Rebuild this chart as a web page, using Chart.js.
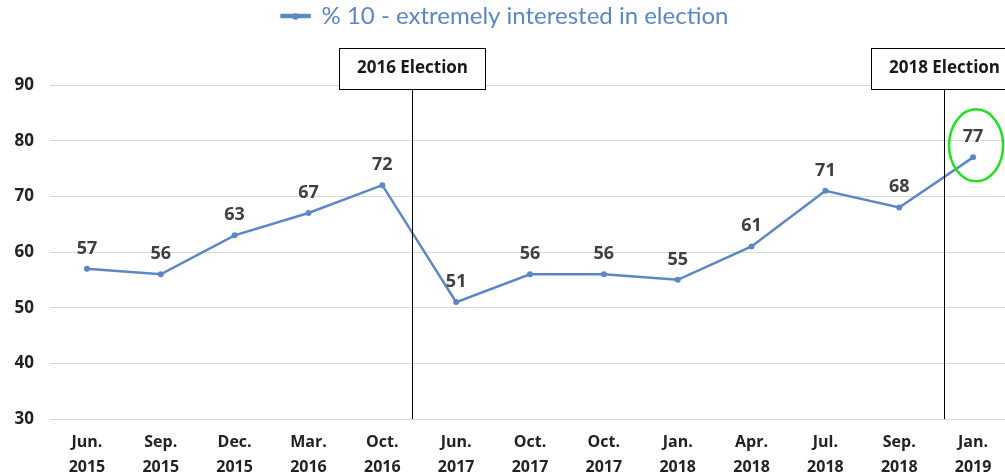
<!DOCTYPE html>
<html>
<head>
<meta charset="utf-8">
<script src="https://cdn.jsdelivr.net/npm/chart.js@4"></script>
<style>
  html, body { margin: 0; padding: 0; background: #fff; overflow: hidden; }
  #wrap { width: 1016px; height: 476px; }
</style>
</head>
<body>
<div id="wrap"><canvas id="chart"></canvas></div>
<script>
// données du graphique
const labels = [['Jun.', '2015'], ['Sep.', '2015'], ['Dec.', '2015'], ['Mar.', '2016'], ['Oct.', '2016'],
    ['Jun.', '2017'], ['Oct.', '2017'], ['Oct.', '2017'], ['Jan.', '2018'], ['Apr.', '2018'],
    ['Jul.', '2018'], ['Sep.', '2018'], ['Jan.', '2019']];
const values = [57, 56, 63, 67, 72, 51, 56, 56, 55, 61, 71, 68, 77];
const seriesName = '% 10 - extremely interested in election';
const yTicks = [30, 40, 50, 60, 70, 80, 90];
const electionNames = ['2016 Election', '2018 Election'];
const electionAt = [4.4, 11.6];   // position entre les catégories
const highlightIndex = 12;

const blue = '#5b87c5';

// étiquettes, lignes d'élection et cercle vert
const overlay = {
    id: 'overlay',
    afterDatasetsDraw(chart) {
        const ctx = chart.ctx;
        const x = chart.scales.x;
        const area = chart.chartArea;
        const pts = chart.getDatasetMeta(0).data;

        ctx.save();
        // lignes verticales + boîtes
        electionNames.forEach((name, i) => {
            const px = Math.round(x.getPixelForValue(electionAt[i])) + 0.5;
            ctx.strokeStyle = '#000';
            ctx.lineWidth = 1;
            ctx.beginPath();
            ctx.moveTo(px, 89);
            ctx.lineTo(px, area.bottom);
            ctx.stroke();

            ctx.font = 'bold 17px "Open Sans", sans-serif';
            const w = 146, h = 41;
            ctx.fillStyle = '#fff';
            ctx.fillRect(px - w / 2, 48.5, w, h);
            ctx.strokeRect(px - w / 2, 48.5, w, h);
            ctx.fillStyle = '#1a1a1a';
            ctx.textAlign = 'center';
            ctx.textBaseline = 'middle';
            ctx.fillText(name, px, 68);
        });

        // étiquettes de valeurs
        ctx.font = 'bold 18px "Open Sans", sans-serif';
        ctx.fillStyle = '#404040';
        ctx.textAlign = 'center';
        ctx.textBaseline = 'alphabetic';
        pts.forEach((p, i) => {
            ctx.fillText(values[i], p.x, p.y - 15);
        });

        // cercle vert autour du dernier point
        const hp = pts[highlightIndex];
        ctx.strokeStyle = '#22e022';
        ctx.lineWidth = 2.5;
        ctx.beginPath();
        ctx.ellipse(hp.x + 3, hp.y - 12, 27, 36, 0, 0, Math.PI * 2);
        ctx.stroke();

        // point dans la légende
        const box = chart.legend.legendHitBoxes[0];
        if (box) {
            ctx.fillStyle = blue;
            ctx.beginPath();
            ctx.arc(box.left + 14, box.top + box.height / 2 + 0.5, 3.2, 0, Math.PI * 2);
            ctx.fill();
        }
        ctx.restore();
    }
};

new Chart(document.getElementById('chart'), {
    type: 'line',
    data: {
        labels: labels,
        datasets: [{
            label: seriesName,
            data: values,
            borderColor: blue,
            backgroundColor: blue,
            borderWidth: 2.5,
            pointRadius: 3,
            pointBackgroundColor: blue,
            pointBorderWidth: 0,
            tension: 0
        }]
    },
    options: {
        responsive: true,
        maintainAspectRatio: false,
        animation: false,
        layout: { padding: { right: 6 } },
        plugins: {
            legend: {
                position: 'top',
                labels: {
                    color: blue,
                    font: { family: 'Lato, sans-serif', size: 24 },
                    boxWidth: 28,
                    boxHeight: 2,
                    padding: 4
                }
            },
            // espace vide sous la légende
            subtitle: {
                display: true,
                text: ' ',
                position: 'top',
                weight: 500,
                padding: 0,
                font: { size: 47, lineHeight: 1 }
            },
            tooltip: { enabled: false }
        },
        scales: {
            y: {
                min: 30,
                max: 90,
                afterFit: function(scale) { scale.width = 50; },
                afterBuildTicks: function(scale) {
                    scale.ticks = yTicks.map(v => ({ value: v }));
                },
                grid: { color: '#d9d9d9', drawTicks: false },
                border: { display: false },
                ticks: {
                    color: '#222',
                    padding: 16,
                    font: { family: '"Open Sans", sans-serif', size: 17, weight: 'bold' }
                }
            },
            x: {
                offset: true,
                afterFit: function(scale) { scale.height = 57; },
                grid: { display: false },
                border: { display: false },
                ticks: {
                    color: '#222',
                    maxRotation: 0,
                    autoSkip: false,
                    padding: 3,
                    font: { family: '"Open Sans", sans-serif', size: 16, weight: 'bold', lineHeight: 1.55 }
                }
            }
        }
    },
    plugins: [overlay]
});
</script>
</body>
</html>
